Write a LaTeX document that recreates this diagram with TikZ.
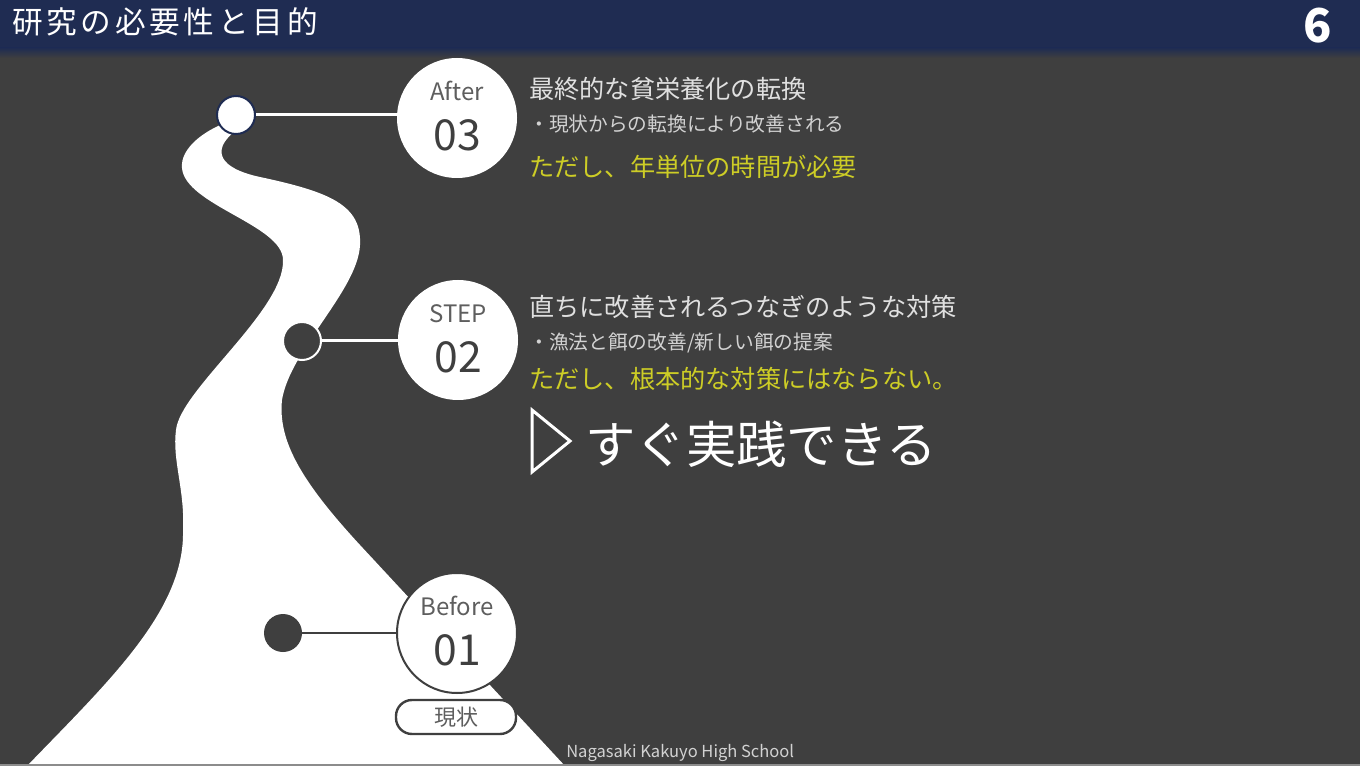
\documentclass[tikz,border=0pt]{standalone}
\usepackage{fontspec}
\setmainfont{Noto Sans CJK JP}
\newfontfamily\titlefont[LetterSpace=12]{Noto Sans CJK JP}
\definecolor{slidebg}{HTML}{3F3F3F}
\definecolor{barnavy}{HTML}{1F2C52}
\definecolor{headtext}{HTML}{E0E0E0}
\definecolor{subtext}{HTML}{D2D2D2}
\definecolor{warntext}{HTML}{CDCD26}
\definecolor{labelgrey}{HTML}{5E5E5E}
\definecolor{bottomgrey}{HTML}{8C8C8C}
\begin{document}
\begin{tikzpicture}[
    x=0.75pt, y=-0.75pt,
    bigcircle/.style={
        circle,
        fill=white,
        minimum size=90pt,
        inner sep=0pt
    },
    dotnode/.style={circle, minimum size=28.5pt, inner sep=0pt},
    steplabel/.style={inner sep=0pt, text=labelgrey, font=\fontsize{18}{18}\selectfont},
    stepnum/.style={inner sep=0pt, text=slidebg, font=\fontsize{32}{32}\selectfont},
    headline/.style={anchor=base west, inner sep=0pt, text=headtext, font=\fontsize{18.9}{20}\selectfont},
    subline/.style={anchor=base west, inner sep=0pt, text=subtext, font=\fontsize{14.8}{16}\selectfont},
    warnline/.style={anchor=base west, inner sep=0pt, text=warntext, font=\fontsize{18.9}{20}\selectfont},
    link/.style={line width=2.25pt}
]
\useasboundingbox (0,0) rectangle (1360,766);
\fill[slidebg] (0,0) rectangle (1360,766);

%==========================
% title bar
%==========================
\fill[barnavy] (0,0) rectangle (1360,48);
\shade[top color=barnavy, bottom color=slidebg] (0,48) rectangle (1360,58);
\node[anchor=base west, inner sep=0pt, text=white, font=\titlefont\fontsize{23}{24}\selectfont]
    (title) at (12,34) {研究の必要性と目的};
\node[inner sep=0pt, text=white, font=\bfseries\fontsize{35}{35}\selectfont] (page) at (1318,26) {6};

%==========================
% road
%==========================
\fill[white] (27,766) .. controls (110,680) and (185,610) .. (183,530)
    .. controls (185,490) and (172,460) .. (176,430)
    .. controls (180,390) and (285,310) .. (283,260)
    .. controls (283,225) and (185,205) .. (182,168)
    .. controls (180,148) and (205,130) .. (228,122)
    -- (234,132)
    .. controls (212,150) and (218,168) .. (260,177)
    .. controls (330,192) and (362,205) .. (360,245)
    .. controls (358,290) and (290,350) .. (282,400)
    .. controls (278,440) and (300,480) .. (360,545)
    -- (565,766) -- cycle;
\draw[bottomgrey, line width=1.5pt] (0,765) -- (1360,765);

%==========================
% steps
%==========================
\node[dotnode, fill=white, draw=barnavy, line width=1.5pt] (d3) at (236,115) {};
\node[bigcircle] (c3) at (457,118) {};
\node[steplabel] (l3) at (457,91) {After};
\node[stepnum] (n3) at (457,135) {03};
\draw[link, white] (d3.east) -- (d3.east -| c3.west);

\node[dotnode, fill=slidebg, draw=white, line width=1.5pt] (d2) at (302,341) {};
\node[bigcircle] (c2) at (458,340) {};
\node[steplabel] (l2) at (458,314) {STEP};
\node[stepnum] (n2) at (458,357) {02};
\draw[link, white] (d2.east) -- (d2.east -| c2.west);

\node[dotnode, fill=slidebg] (d1) at (283,633) {};
\node[bigcircle, draw=slidebg, line width=1.5pt] (c1) at (457,633) {};
\node[steplabel] (l1) at (457,606) {Before};
\node[stepnum] (n1) at (457,650) {01};
\draw[slidebg, line width=1.5pt] (d1.east) -- (c1.west);

\node[draw=slidebg, line width=1.8pt, fill=white, rounded corners=12pt,
    minimum width=90pt, minimum height=25.5pt, inner sep=0pt,
    text=labelgrey, font=\fontsize{16.5}{17}\selectfont] (now) at (456,717) {現状};

%==========================
% texts
%==========================
\node[headline] (h3) at (529,99) {最終的な貧栄養化の転換};
\node[subline] (s3) at (529,132) {・現状からの転換により改善される};
\node[warnline] (w3) at (529,177) {ただし、年単位の時間が必要};

\node[headline] (h2) at (529,317) {直ちに改善されるつなぎのような対策};
\node[subline] (s2) at (529,350) {・漁法と餌の改善/新しい餌の提案};
\node[warnline] (w2) at (529,389) {ただし、根本的な対策にはならない。};

\draw[white, line width=2.25pt, line join=miter] (532,410) -- (570,441) -- (532,472) -- cycle;
\node[anchor=base west, inner sep=0pt, text=white, font=\fontsize{37.8}{39}\selectfont]
    (now2) at (585,463) {すぐ実践できる};

\node[anchor=base west, inner sep=0pt, text=subtext, font=\fontsize{12.4}{13}\selectfont]
    (school) at (566,757) {Nagasaki Kakuyo High School};

\end{tikzpicture}
\end{document}
